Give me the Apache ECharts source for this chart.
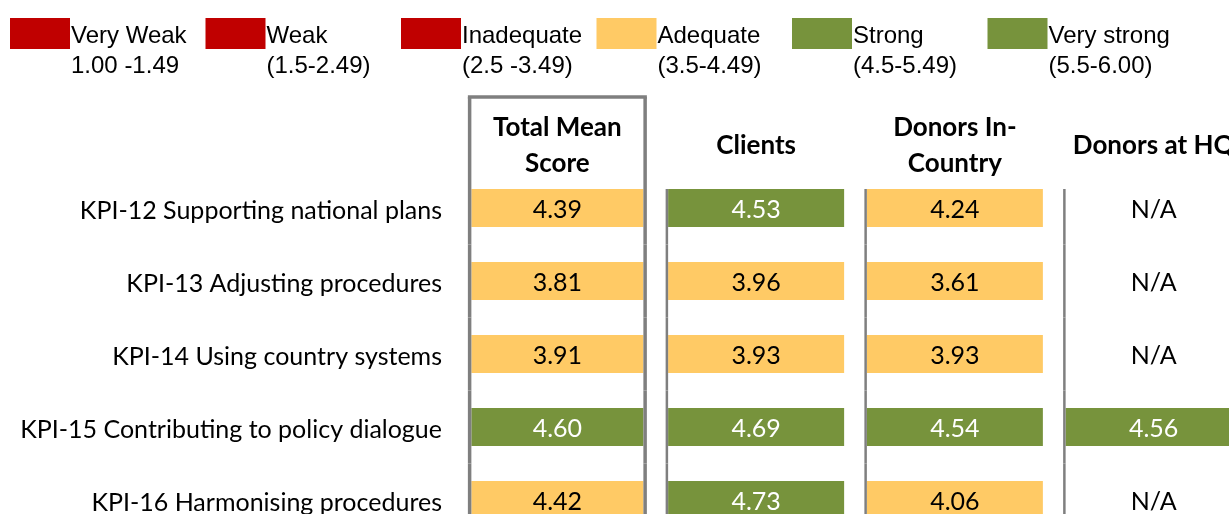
<!DOCTYPE html>
<html>
<head>
<meta charset="utf-8">
<script src="https://cdn.jsdelivr.net/npm/echarts@6/dist/echarts.min.js"></script>
<style>html,body{margin:0;padding:0;background:#fff;}#chart{width:1229px;height:514px;}</style>
</head>
<body>
<div id="chart"></div>
<script>
// ---- data ----
var kpis = [
  'KPI-12 Supporting national plans',
  'KPI-13 Adjusting procedures',
  'KPI-14 Using country systems',
  'KPI-15 Contributing to policy dialogue',
  'KPI-16 Harmonising procedures'
];
var columns = ['Total Mean\nScore', 'Clients', 'Donors In-\nCountry', 'Donors at HQ'];
var totalMean = [4.39, 3.81, 3.91, 4.60, 4.42];
var clients = [4.53, 3.96, 3.93, 4.69, 4.73];
var donorsInCountry = [4.24, 3.61, 3.93, 4.54, 4.06];
var donorsHQ = [null, null, null, 4.56, null];
var ratingNames = ['Very Weak', 'Weak', 'Inadequate', 'Adequate', 'Strong', 'Very strong'];
var ratingRanges = ['1.00 -1.49', '(1.5-2.49)', '(2.5 -3.49)', '(3.5-4.49)', '(4.5-5.49)', '(5.5-6.00)'];
var ratingLower = [1.0, 1.5, 2.5, 3.5, 4.5, 5.5];
var ratingColors = ['#C00000', '#C00000', '#C00000', '#FFCA65', '#77933C', '#77933C'];
var ratingTextColors = ['#fff', '#fff', '#fff', '#000', '#fff', '#fff'];

// ---- build ----
var seriesCols = [totalMean, clients, donorsInCountry, donorsHQ];
var cells = [];
seriesCols.forEach(function (arr, c) {
  arr.forEach(function (v, r) { cells.push([c, r, v == null ? '-' : v]); });
});
function ratingIndex(v) {
  var idx = 0;
  for (var i = 0; i < ratingLower.length; i++) if (v >= ratingLower[i]) idx = i;
  return idx;
}
var FONT = 'Lato';
var GRAY = '#7F7F7F';

function renderCell(params, api) {
  var col = api.value(0), row = api.value(1), raw = api.value(2);
  var p = api.coord([col, row]);
  var sz = api.size([1, 1]);
  var cw = col === 0 ? 172 : 176;
  var ch = 38;
  var x0 = p[0] - cw / 2, y0 = p[1] - ch / 2;
  var children = [];
  var hasVal = typeof raw === 'number' && !isNaN(raw);
  var txtColor = '#000';
  if (hasVal) {
    var ri = ratingIndex(raw);
    txtColor = ratingTextColors[ri];
    children.push({ type: 'rect', shape: { x: x0, y: y0, width: cw, height: ch }, style: { fill: ratingColors[ri] } });
  }
  children.push({
    type: 'text', x: p[0], y: p[1] + 2,
    style: { text: hasVal ? raw.toFixed(2) : 'N/A', fill: txtColor, font: '25px ' + FONT, align: 'center', verticalAlign: 'middle' }
  });
  var bottom = p[1] + sz[1] / 2;
  if (col === 0) {
    var top = row === 0 ? p[1] - 111 : p[1] - sz[1] / 2;
    var lx = x0 - 1.75, rx = x0 + cw + 1.75;
    children.push({ type: 'line', shape: { x1: lx, y1: top, x2: lx, y2: bottom }, style: { stroke: GRAY, lineWidth: 3.5 } });
    children.push({ type: 'line', shape: { x1: rx, y1: top, x2: rx, y2: bottom }, style: { stroke: GRAY, lineWidth: 3.5 } });
    if (row === 0) {
      children.push({ type: 'line', shape: { x1: lx - 1.75, y1: top, x2: rx + 1.75, y2: top }, style: { stroke: GRAY, lineWidth: 3.5 } });
    }
  } else {
    var top2 = row === 0 ? y0 : p[1] - sz[1] / 2;
    var sx = x0 - 1.25;
    children.push({ type: 'line', shape: { x1: sx, y1: top2, x2: sx, y2: bottom }, style: { stroke: GRAY, lineWidth: 2.5 } });
  }
  return { type: 'group', children: children };
}

var legendSeries = ratingNames.map(function (n, i) {
  return { type: 'bar', name: n, data: [], itemStyle: { color: ratingColors[i] } };
});

var chart = echarts.init(document.getElementById('chart'), null, { renderer: 'canvas' });
chart.setOption({
  backgroundColor: '#fff',
  animation: false,
  legend: {
    left: 5, top: -19,
    itemWidth: 60, itemHeight: 31, itemGap: 5.5,
    icon: 'rect', selectedMode: false,
    data: ratingNames,
    formatter: function (name) {
      var i = ratingNames.indexOf(name);
      return '{n|' + name + '}\n{r|' + ratingRanges[i] + '}';
    },
    textStyle: {
      width: 129, padding: [35, 0, 0, -4],
      fontFamily: 'Liberation Sans', fontSize: 24, color: '#000', lineHeight: 30,
      rich: {
        n: { fontFamily: 'Liberation Sans', fontSize: 24, lineHeight: 30, color: '#000' },
        r: { fontFamily: 'Liberation Sans', fontSize: 24, lineHeight: 30, color: '#000' }
      }
    }
  },
  grid: { left: 458, top: 171.5, width: 795, height: 365, containLabel: false, outerBoundsMode: 'none' },
  xAxis: {
    type: 'category', position: 'top', data: columns,
    axisLine: { show: false }, axisTick: { show: false }, splitLine: { show: false },
    axisLabel: { interval: 0, margin: 26, fontFamily: FONT, fontWeight: 'bold', fontSize: 26, lineHeight: 36, color: '#000', verticalAlign: 'middle' }
  },
  yAxis: {
    type: 'category', inverse: true, data: kpis,
    axisLine: { show: false }, axisTick: { show: false }, splitLine: { show: false },
    axisLabel: {
      margin: 16, color: '#000',
      formatter: function (v) { return '{k|' + v + '}'; },
      rich: { k: { fontFamily: FONT, fontSize: 25, color: '#000', padding: [6, 0, 0, 0] } }
    }
  },
  series: [{
    type: 'custom', name: 'scores', renderItem: renderCell, clip: false,
    data: cells, encode: { x: 0, y: 1 }, silent: true
  }].concat(legendSeries)
});
</script>
</body>
</html>
